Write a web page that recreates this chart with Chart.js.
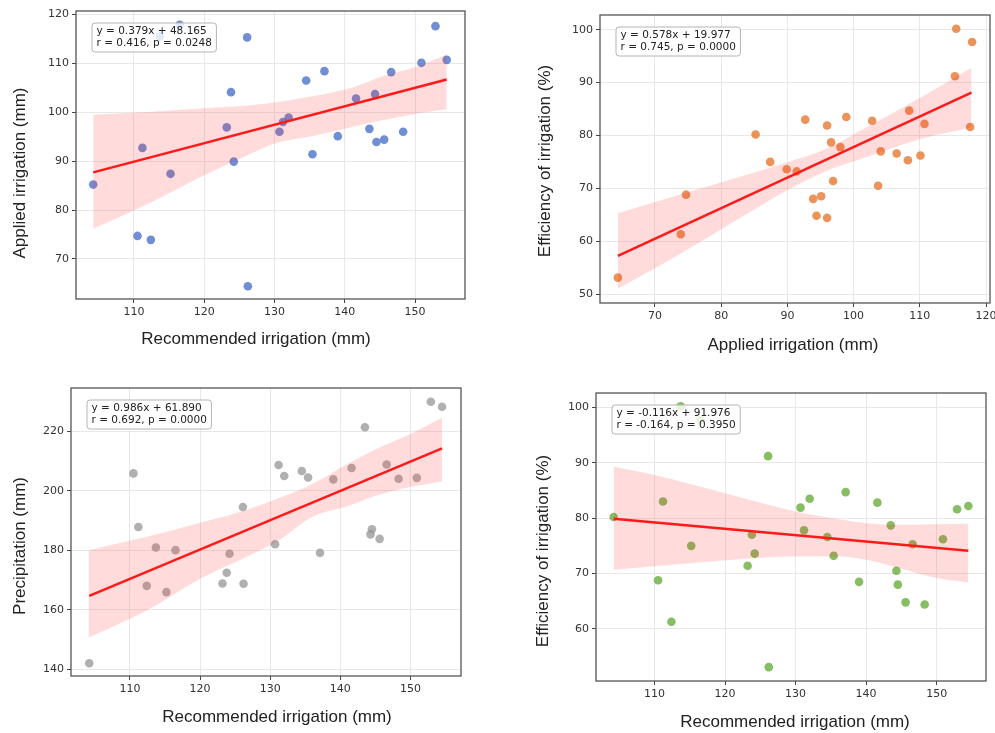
<!DOCTYPE html>
<html>
<head>
<meta charset="utf-8">
<title>Irrigation regressions</title>
<script src="https://cdn.jsdelivr.net/npm/chart.js@4.4.1/dist/chart.umd.min.js"></script>
<style>
    html, body { margin: 0; padding: 0; background: #fff; }
    #wrap { position: relative; width: 995px; height: 733px; }
    #wrap canvas { position: absolute; left: 0; top: 0; }
</style>
</head>
<body>
<div id="wrap">
    <canvas id="chart1" width="995" height="733"></canvas>
    <canvas id="chart2" width="995" height="733"></canvas>
    <canvas id="chart3" width="995" height="733"></canvas>
    <canvas id="chart4" width="995" height="733"></canvas>
</div>
<script>
// 29 fields
var recommended = [104.2, 110.5, 111.2, 112.4, 113.7, 115.2, 116.5, 123.2, 123.8, 124.2, 126.1, 126.2, 130.7, 131.2, 132.0,
    134.5, 135.4, 137.1, 139.0, 141.6, 143.5, 144.3, 144.5, 145.6, 146.6, 148.3, 150.9, 152.9, 154.5];
var applied = [85.2, 74.7, 92.7, 73.9, 115.5, 87.4, 117.9, 96.9, 104.1, 89.9, 115.3, 64.4, 96.0, 98.0, 98.9,
    106.5, 91.4, 108.4, 95.1, 102.8, 96.6, 103.7, 93.9, 94.4, 108.2, 96.0, 110.1, 117.6, 110.7];
var efficiency = [80.2, 68.8, 83.0, 61.3, 100.2, 75.0, 97.7, 71.4, 77.0, 73.6, 91.2, 53.1, 81.9, 77.8, 83.5,
    76.6, 73.2, 84.7, 68.5, 82.8, 78.7, 70.5, 68.0, 64.8, 75.3, 64.4, 76.2, 81.6, 82.2];
var precipitation = [142.0, 205.8, 187.8, 168.0, 180.9, 165.9, 180.0, 168.8, 172.4, 178.8, 194.5, 168.7, 182.0, 208.6, 204.9,
    206.6, 204.4, 179.1, 203.8, 207.6, 221.3, 185.3, 187.0, 183.8, 208.8, 204.0, 204.3, 229.9, 228.2];

// regression lines (end points)
var fit1X = [104.2, 154.5], fit1Y = [87.7, 106.7];
var fit2X = [64.4, 117.8], fit2Y = [57.2, 88.1];
var fit3X = [104.2, 154.5], fit3Y = [164.6, 214.2];
var fit4X = [104.2, 154.5], fit4Y = [79.9, 74.1];

// confidence bands
var band1X = [104.2, 112.5, 120.0, 126.6, 130.0, 136.0, 141.0, 145.5, 150.2, 154.5];
var band1Lo = [76.2, 81.6, 87.1, 91.5, 93.6, 95.3, 97.0, 98.4, 99.7, 100.6];
var band1Hi = [99.5, 100.1, 100.8, 101.4, 102.0, 103.4, 105.0, 107.4, 109.3, 111.8];

var band2X = [64.4, 73.4, 83.4, 89.9, 95.9, 101.0, 106.0, 111.0, 117.8];
var band2Lo = [51.0, 57.3, 64.8, 69.6, 73.3, 75.5, 77.7, 79.6, 81.5];
var band2Hi = [65.3, 68.7, 72.4, 74.9, 77.5, 80.9, 84.3, 87.8, 92.8];

var band3X = [104.1, 112.4, 120.0, 126.6, 131.3, 136.1, 140.8, 145.5, 150.3, 154.5];
var band3Lo = [150.6, 159.7, 170.4, 177.7, 183.4, 191.3, 194.6, 198.6, 201.4, 203.1];
var band3Hi = [180.0, 184.5, 189.2, 193.5, 197.5, 202.3, 208.7, 214.4, 219.4, 224.5];

var band4X = [104.2, 110.0, 120.0, 130.0, 136.1, 140.0, 145.5, 150.0, 154.5];
var band4Lo = [70.7, 71.3, 72.4, 73.1, 73.1, 72.5, 70.7, 69.2, 68.4];
var band4Hi = [89.3, 87.8, 84.5, 81.2, 79.8, 79.1, 78.8, 78.9, 79.0];

// tick values
var ticksRec = [110, 120, 130, 140, 150];
var ticksApplied = [70, 80, 90, 100, 110, 120];
var ticksAppliedX = [70, 80, 90, 100, 110, 120];
var ticksEff = [50, 60, 70, 80, 90, 100];
var ticksEff4 = [60, 70, 80, 90, 100];
var ticksPrecip = [140, 160, 180, 200, 220];

var stats1 = ["y = 0.379x + 48.165", "r = 0.416, p = 0.0248"];
var stats2 = ["y = 0.578x + 19.977", "r = 0.745, p = 0.0000"];
var stats3 = ["y = 0.986x + 61.890", "r = 0.692, p = 0.0000"];
var stats4 = ["y = -0.116x + 91.976", "r = -0.164, p = 0.3950"];


var TITLE_FONT = '17px "Liberation Sans", Arial, sans-serif';
var Y_AXIS_W = 56, X_AXIS_H = 40;
var W = 995, H = 733;

function pairs(xs, ys) {
    return xs.map(function (x, i) { return { x: x, y: ys[i] }; });
}

// frame, axis titles and the stats box
var panelDecor = {
    id: 'panelDecor',
    afterDraw: function (chart) {
        var a = chart.chartArea;
        var ctx = chart.ctx;
        var o = chart.options.plugins.panelDecor;
        var lines = o.lines;
        ctx.save();
        ctx.strokeStyle = '#555';
        ctx.lineWidth = 1.3;
        ctx.strokeRect(a.left, a.top, a.right - a.left, a.bottom - a.top);

        // axis titles
        ctx.fillStyle = '#222';
        ctx.font = TITLE_FONT;
        ctx.textAlign = 'center';
        ctx.textBaseline = 'middle';
        ctx.fillText(o.xTitle, o.xTitleAt[0], o.xTitleAt[1]);
        ctx.save();
        ctx.translate(o.yTitleAt[0], o.yTitleAt[1]);
        ctx.rotate(-Math.PI / 2);
        ctx.fillText(o.yTitle, 0, 0);
        ctx.restore();

        ctx.font = '10.5px "DejaVu Sans"';
        var tw = Math.max(ctx.measureText(lines[0]).width, ctx.measureText(lines[1]).width);
        var bx = a.left + 16, by = a.top + 12, bw = tw + 9, bh = 29, r = 3;
        ctx.beginPath();
        ctx.moveTo(bx + r, by);
        ctx.lineTo(bx + bw - r, by);
        ctx.quadraticCurveTo(bx + bw, by, bx + bw, by + r);
        ctx.lineTo(bx + bw, by + bh - r);
        ctx.quadraticCurveTo(bx + bw, by + bh, bx + bw - r, by + bh);
        ctx.lineTo(bx + r, by + bh);
        ctx.quadraticCurveTo(bx, by + bh, bx, by + bh - r);
        ctx.lineTo(bx, by + r);
        ctx.quadraticCurveTo(bx, by, bx + r, by);
        ctx.closePath();
        ctx.fillStyle = 'rgba(255,255,255,0.8)';
        ctx.fill();
        ctx.strokeStyle = '#b4b4b4';
        ctx.lineWidth = 1;
        ctx.stroke();

        ctx.fillStyle = '#222';
        ctx.textAlign = 'left';
        ctx.fillText(lines[0], bx + 4.5, by + 8);
        ctx.fillText(lines[1], bx + 4.5, by + 20);
        ctx.restore();
    }
};

function makePanel(id, p) {
    return new Chart(document.getElementById(id), {
        type: 'scatter',
        data: {
            datasets: [
                {
                    type: 'line',
                    data: pairs(p.fitX, p.fitY),
                    borderColor: '#ff1a1a',
                    borderWidth: 2.5,
                    pointRadius: 0,
                    fill: false,
                    order: 0
                },
                {
                    type: 'line',
                    data: pairs(p.bandX, p.bandHi),
                    borderWidth: 0,
                    borderColor: 'rgba(0,0,0,0)',
                    backgroundColor: 'rgba(255,40,40,0.17)',
                    pointRadius: 0,
                    cubicInterpolationMode: 'monotone',
                    fill: '+1',
                    order: 1
                },
                {
                    type: 'line',
                    data: pairs(p.bandX, p.bandLo),
                    borderWidth: 0,
                    borderColor: 'rgba(0,0,0,0)',
                    pointRadius: 0,
                    cubicInterpolationMode: 'monotone',
                    fill: false,
                    order: 1
                },
                {
                    data: pairs(p.xs, p.ys),
                    backgroundColor: p.color,
                    borderWidth: 0,
                    pointRadius: 4.3,
                    order: 2
                }
            ]
        },
        options: {
            responsive: false,
            animation: false,
            events: [],
            layout: {
                padding: {
                    left: p.area.left - Y_AXIS_W,
                    top: p.area.top,
                    right: W - p.area.right,
                    bottom: H - p.area.bottom - X_AXIS_H
                }
            },
            plugins: {
                legend: { display: false },
                tooltip: { enabled: false },
                panelDecor: {
                    lines: p.stats,
                    xTitle: p.xTitle, yTitle: p.yTitle,
                    xTitleAt: p.xTitleAt, yTitleAt: p.yTitleAt
                }
            },
            scales: {
                x: {
                    type: 'linear',
                    min: p.xMin,
                    max: p.xMax,
                    afterBuildTicks: function (scale) {
                        scale.ticks = p.xTicks.map(function (v) { return { value: v }; });
                    },
                    afterFit: function (scale) {
                        scale.height = X_AXIS_H;
                        scale.paddingLeft = 0;
                        scale.paddingRight = 0;
                    },
                    ticks: { autoSkip: false, maxRotation: 0, color: '#333', font: { size: 11 }, padding: 3 },
                    grid: { color: '#e8e8e8', tickColor: '#444', tickLength: 4 },
                    border: { display: false }
                },
                y: {
                    type: 'linear',
                    min: p.yMin,
                    max: p.yMax,
                    afterBuildTicks: function (scale) {
                        scale.ticks = p.yTicks.map(function (v) { return { value: v }; });
                    },
                    afterFit: function (scale) {
                        scale.width = Y_AXIS_W;
                        scale.paddingTop = 0;
                        scale.paddingBottom = 0;
                    },
                    ticks: { autoSkip: false, color: '#333', font: { size: 11 }, padding: 3 },
                    grid: { color: '#e8e8e8', tickColor: '#444', tickLength: 4 },
                    border: { display: false }
                }
            }
        },
        plugins: [panelDecor]
    });
}

Chart.defaults.font.family = '"DejaVu Sans", sans-serif';

makePanel('chart1', {
    xs: recommended, ys: applied, color: 'rgba(76,114,200,0.8)',
    fitX: fit1X, fitY: fit1Y, bandX: band1X, bandLo: band1Lo, bandHi: band1Hi,
    xTicks: ticksRec, yTicks: ticksApplied, stats: stats1,
    xMin: 101.75, xMax: 157.1, yMin: 61.8, yMax: 120.7,
    xTitle: 'Recommended irrigation (mm)', yTitle: 'Applied irrigation (mm)',
    area: { left: 76, top: 11, right: 465, bottom: 299 }, xTitleAt: [256, 339], yTitleAt: [20, 173]
});

makePanel('chart2', {
    xs: applied, ys: efficiency, color: 'rgba(232,128,60,0.85)',
    fitX: fit2X, fitY: fit2Y, bandX: band2X, bandLo: band2Lo, bandHi: band2Hi,
    xTicks: ticksAppliedX, yTicks: ticksEff, stats: stats2,
    xMin: 61.7, xMax: 120.6, yMin: 48.3, yMax: 102.8,
    xTitle: 'Applied irrigation (mm)', yTitle: 'Efficiency of irrigation (%)',
    area: { left: 600, top: 15, right: 990, bottom: 303 }, xTitleAt: [793, 345], yTitleAt: [545, 161]
});

makePanel('chart3', {
    xs: recommended, ys: precipitation, color: 'rgba(150,150,150,0.75)',
    fitX: fit3X, fitY: fit3Y, bandX: band3X, bandLo: band3Lo, bandHi: band3Hi,
    xTicks: ticksRec, yTicks: ticksPrecip, stats: stats3,
    xMin: 101.6, xMax: 157.2, yMin: 137.7, yMax: 234.5,
    xTitle: 'Recommended irrigation (mm)', yTitle: 'Precipitation (mm)',
    area: { left: 71, top: 388, right: 461, bottom: 676 }, xTitleAt: [277, 717], yTitleAt: [20, 546]
});

makePanel('chart4', {
    xs: recommended, ys: efficiency, color: 'rgba(105,172,60,0.8)',
    fitX: fit4X, fitY: fit4Y, bandX: band4X, bandLo: band4Lo, bandHi: band4Hi,
    xTicks: ticksRec, yTicks: ticksEff4, stats: stats4,
    xMin: 101.7, xMax: 157.0, yMin: 50.6, yMax: 102.6,
    xTitle: 'Recommended irrigation (mm)', yTitle: 'Efficiency of irrigation (%)',
    area: { left: 596, top: 393, right: 986, bottom: 681 }, xTitleAt: [795, 722], yTitleAt: [543, 551]
});
</script>
</body>
</html>
